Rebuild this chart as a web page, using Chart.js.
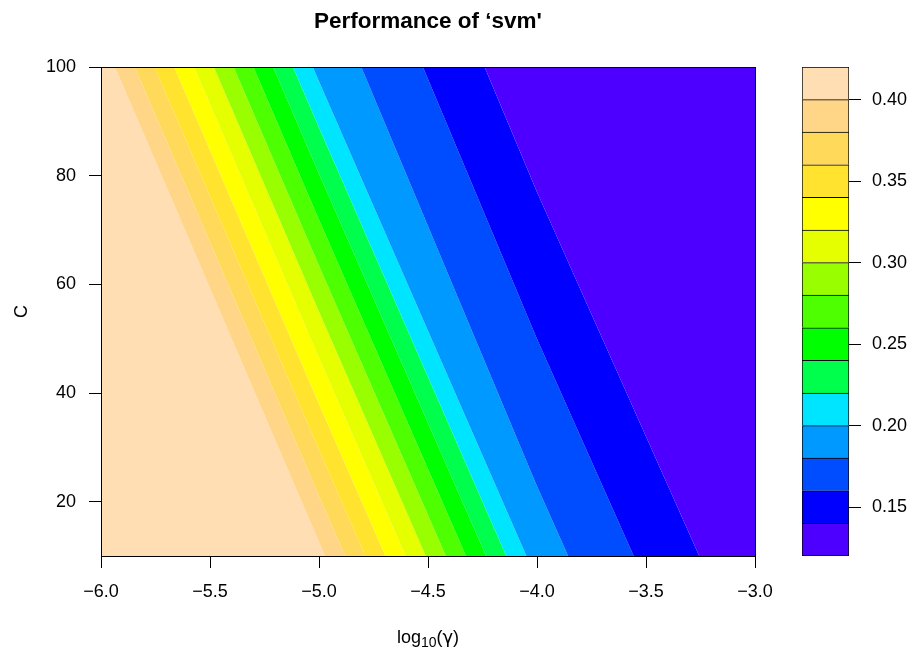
<!DOCTYPE html>
<html>
<head>
<meta charset="utf-8">
<title>Performance of svm</title>
<script src="https://cdn.jsdelivr.net/npm/chart.js@4.4.1/dist/chart.umd.min.js"></script>
<style>
  html, body { margin: 0; padding: 0; background: #fff; }
  #wrap { position: relative; width: 914px; height: 655px; }
  #main { position: absolute; left: 0; top: 0; }
  #key { position: absolute; left: 790px; top: 0; }
</style>
</head>
<body>
<div id="wrap">
  <canvas id="main" width="790" height="655"></canvas>
  <canvas id="key" width="124" height="655"></canvas>
</div>
<script>
// tuning grid: log10(gamma) x cost, error
const logGamma = [-6, -5, -4, -3];
const costs = [10, 100];
const errorAtC10 = [0.418, 0.406, 0.1895, 0.123];
const errorAtC100 = [0.414, 0.1937, 0.123, 0.121];

// contour levels and their colours (low -> high)
const levels = [0.12, 0.14, 0.16, 0.18, 0.20, 0.22, 0.24, 0.26, 0.28, 0.30, 0.32, 0.34, 0.36, 0.38, 0.40, 0.42];
const levelColors = ['#4D00FF', '#0000FF', '#004DFF', '#0099FF', '#00E5FF', '#00FF4D', '#00FF00', '#4DFF00',
                     '#99FF00', '#E6FF00', '#FFFF00', '#FFE32E', '#FFD95A', '#FFD688', '#FFDEB3'];

const xTicks = [-6, -5.5, -5, -4.5, -4, -3.5, -3];
const yTicks = [20, 40, 60, 80, 100];
const keyTicks = [0.15, 0.20, 0.25, 0.30, 0.35, 0.40];

const FONT = '"Liberation Sans", Arial, Helvetica, sans-serif';
Chart.defaults.font.family = FONT;
Chart.defaults.color = '#000';

// clip a cell polygon (values linear along edges) to lo <= z <= hi
function clipBand(poly, lo, hi) {
    const cut = (pts, inside, level) => {
        const out = [];
        pts.forEach((p, i) => {
            const q = pts[(i + 1) % pts.length];
            const pin = inside(p.z), qin = inside(q.z);
            if (pin) out.push(p);
            if (pin !== qin) {
                const t = (level - p.z) / (q.z - p.z);
                out.push({ x: p.x + t * (q.x - p.x), y: p.y + t * (q.y - p.y), z: level });
            }
        });
        return out;
    };
    return cut(cut(poly, z => z >= lo, lo), z => z <= hi, hi);
}

function buildBands() {
    const sets = [];
    for (let i = 0; i < logGamma.length - 1; i++) {
        const cell = [
            { x: logGamma[i], y: costs[0], z: errorAtC10[i] },
            { x: logGamma[i + 1], y: costs[0], z: errorAtC10[i + 1] },
            { x: logGamma[i + 1], y: costs[1], z: errorAtC100[i + 1] },
            { x: logGamma[i], y: costs[1], z: errorAtC100[i] }
        ];
        for (let k = 0; k < levelColors.length; k++) {
            const pts = clipBand(cell, levels[k], levels[k + 1]);
            if (pts.length < 3) continue;
            const data = pts.map(p => ({ x: p.x, y: p.y }));
            data.push({ x: pts[0].x, y: pts[0].y });
            sets.push({
                data,
                showLine: true,
                fill: 'shape',
                backgroundColor: levelColors[k],
                borderColor: 'rgba(0,0,0,0)',
                borderWidth: 0,
                pointRadius: 0,
                tension: 0
            });
        }
    }
    return sets;
}

const minus = v => (v < 0 ? '\u2212' : '') + Math.abs(v).toFixed(1);
// same pixel snapping as the axis border lines
const snap = p => Math.round(p - 0.5) + 0.5;

const frameAndLabels = {
    id: 'frameAndLabels',
    afterDraw(chart) {
        const { ctx, chartArea: a } = chart;
        ctx.save();
        ctx.strokeStyle = '#000';
        ctx.lineWidth = 1;
        const l = snap(a.left), t = snap(a.top), r = snap(a.right), b = snap(a.bottom);
        ctx.strokeRect(l, t, r - l, b - t);

        const cx = (a.left + a.right) / 2;
        ctx.fillStyle = '#000';
        ctx.textAlign = 'center';
        ctx.textBaseline = 'alphabetic';
        ctx.font = 'bold 22.5px ' + FONT;
        ctx.fillText('Performance of \u2018svm\'', cx, 28);

        // x label: log10(gamma) with subscript
        ctx.textAlign = 'left';
        const big = '18px ' + FONT, small = '14px ' + FONT, greek = '18px "DejaVu Sans", ' + FONT;
        ctx.font = big;
        const w1 = ctx.measureText('log').width, wp = ctx.measureText('(').width;
        ctx.font = greek;
        const wg = ctx.measureText('\u03B3').width;
        ctx.font = small;
        const w2 = ctx.measureText('10').width;
        let x = cx - (w1 + w2 + wp * 2 + wg) / 2;
        ctx.font = big;
        ctx.fillText('log', x, 643);
        x += w1;
        ctx.font = small;
        ctx.fillText('10', x, 647);
        x += w2;
        ctx.font = big;
        ctx.fillText('(', x, 643);
        x += wp;
        ctx.font = greek;
        ctx.fillText('\u03B3', x, 643);
        x += wg;
        ctx.font = big;
        ctx.fillText(')', x, 643);

        // y label
        ctx.translate(27, (a.top + a.bottom) / 2);
        ctx.rotate(-Math.PI / 2);
        ctx.textAlign = 'center';
        ctx.font = big;
        ctx.fillText('C', 0, 0);
        ctx.restore();
    }
};

new Chart(document.getElementById('main'), {
    type: 'scatter',
    data: { datasets: buildBands() },
    options: {
        responsive: false,
        animation: false,
        events: [],
        layout: { padding: { left: 0, right: 35, top: 67, bottom: 0 } },
        plugins: { legend: { display: false }, tooltip: { enabled: false } },
        scales: {
            x: {
                type: 'linear', min: -6, max: -3,
                afterFit: s => { s.height = 99; },
                afterBuildTicks: s => { s.ticks = xTicks.map(v => ({ value: v })); },
                ticks: { callback: v => minus(v), font: { size: 18 }, padding: 13, maxRotation: 0, autoSkip: false },
                grid: { drawOnChartArea: false, tickLength: 12, color: '#000' },
                border: { display: true, color: '#000' }
            },
            y: {
                type: 'linear', min: 10, max: 100,
                afterFit: s => { s.width = 101; },
                afterBuildTicks: s => { s.ticks = yTicks.map(v => ({ value: v })); },
                ticks: { font: { size: 18 }, padding: 13, autoSkip: false },
                grid: { drawOnChartArea: false, tickLength: 12, color: '#000' },
                border: { display: true, color: '#000' }
            }
        }
    },
    plugins: [frameAndLabels]
});

// colour key
new Chart(document.getElementById('key'), {
    type: 'bar',
    data: {
        labels: [''],
        datasets: levelColors.map((c, k) => ({
            data: [[levels[k], levels[k + 1]]],
            backgroundColor: c,
            borderColor: '#000',
            borderWidth: 1,
            borderSkipped: k === 0 ? false : 'bottom',
            grouped: false,
            barPercentage: 1,
            categoryPercentage: 1
        }))
    },
    options: {
        responsive: false,
        animation: false,
        events: [],
        layout: { padding: { left: 12, right: 0, top: 67, bottom: 99 } },
        plugins: { legend: { display: false }, tooltip: { enabled: false } },
        scales: {
            x: { display: false },
            y: {
                position: 'right',
                min: levels[0], max: levels[levels.length - 1],
                afterFit: s => { s.width = 65; },
                afterBuildTicks: s => { s.ticks = keyTicks.map(v => ({ value: v })); },
                ticks: { callback: v => v.toFixed(2), font: { size: 18 }, padding: 11, autoSkip: false },
                grid: { drawOnChartArea: false, tickLength: 12, color: '#000' },
                border: { display: false }
            }
        }
    }
});
</script>
</body>
</html>
